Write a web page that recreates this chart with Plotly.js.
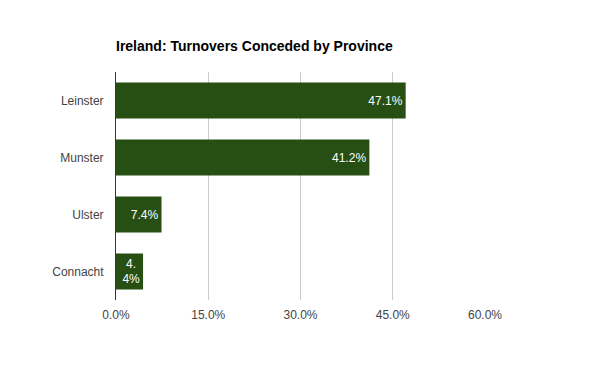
<!DOCTYPE html>
<html>
<head>
<meta charset="utf-8">
<script src="https://cdn.plot.ly/plotly-3.0.1.min.js"></script>
<style>html,body{margin:0;padding:0;background:#fff;}#chart{width:600px;height:371px;}</style>
</head>
<body>
<div id="chart"></div>
<script>
const provinces = ["Leinster", "Munster", "Ulster", "Connacht"];
const shares = [47.1, 41.2, 7.4, 4.4];
const xTickVals = [0, 15, 30, 45, 60];
const xTickText = ["0.0%", "15.0%", "30.0%", "45.0%", "60.0%"];

const labels = shares.map(v => {
  const s = v.toFixed(1) + "%";
  return v < 5 ? s.replace(".", ".<br>") : s;
});

const FONT = "Arial";

const trace = {
  type: "bar",
  orientation: "h",
  y: provinces,
  x: shares,
  marker: {color: "#274e13"},
  width: 0.63,
  text: labels,
  textposition: "inside",
  insidetextanchor: "end",
  constraintext: "none",
  textfont: {color: "#ffffff", size: 12, family: FONT},
  hoverinfo: "none",
  cliponaxis: false
};

const layout = {
  width: 600,
  height: 371,
  margin: {l: 116, r: 115, t: 72, b: 71},
  paper_bgcolor: "#ffffff",
  plot_bgcolor: "#ffffff",
  font: {family: FONT, size: 12, color: "#444444"},
  title: {
    text: "<b>Ireland: Turnovers Conceded by Province</b>",
    font: {size: 14, color: "#000000", family: FONT},
    x: 116 / 600, xanchor: "left", xref: "container",
    y: 1 - 46 / 371, yanchor: "middle", yref: "container"
  },
  xaxis: {
    range: [0, 60],
    tickvals: xTickVals,
    ticktext: xTickText,
    showgrid: true,
    gridcolor: "#cccccc",
    gridwidth: 1,
    zeroline: false,
    showline: false,
    ticks: "",
    ticklabelstandoff: 6,
    fixedrange: true
  },
  yaxis: {
    autorange: "reversed",
    showline: true,
    linecolor: "#333333",
    linewidth: 1,
    ticks: "",
    showgrid: false,
    zeroline: false,
    ticklabelstandoff: 9,
    fixedrange: true
  },
  bargap: 0.37,
  showlegend: false
};

Plotly.newPlot("chart", [trace], layout, {displayModeBar: false, staticPlot: true});
</script>
</body>
</html>
